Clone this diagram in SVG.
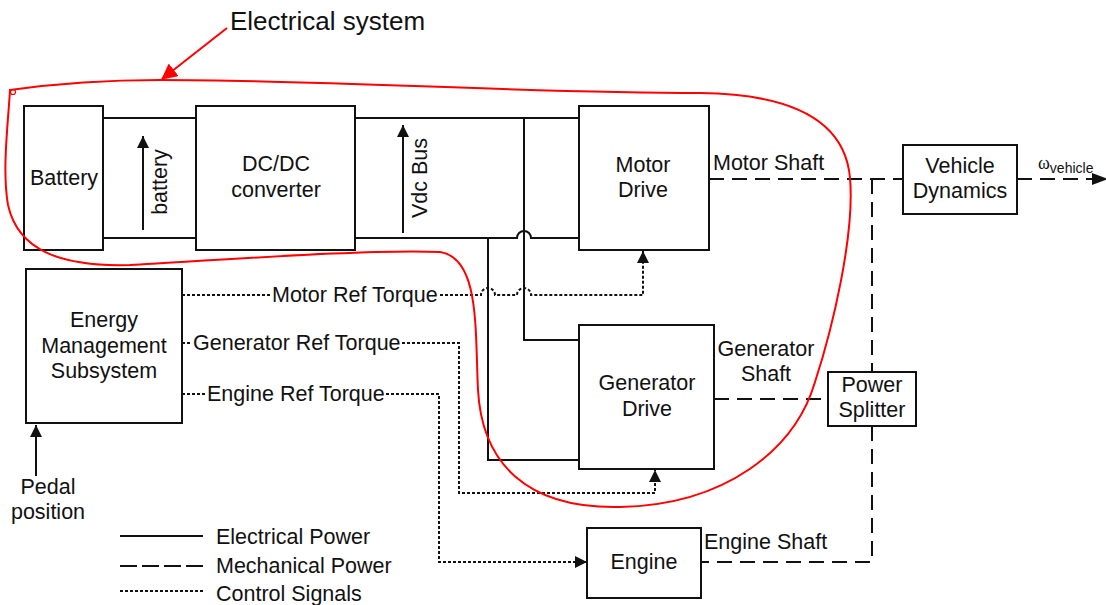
<svg xmlns="http://www.w3.org/2000/svg" width="1106" height="605" viewBox="0 0 1106 605">
<defs>
<style>
text{font-family:"Liberation Sans",Arial,sans-serif;font-size:21.5px;fill:#111}
.box{fill:#fff;stroke:#111;stroke-width:2}
.el{fill:none;stroke:#111;stroke-width:2}
.mech{fill:none;stroke:#111;stroke-width:2;stroke-dasharray:15 8}
.ctl{fill:none;stroke:#111;stroke-width:2;stroke-dasharray:3 2}
.mid{text-anchor:middle}
</style>
<marker id="ah" viewBox="0 0 12 12" refX="12" refY="6" markerWidth="12" markerHeight="12" markerUnits="userSpaceOnUse" orient="auto">
<path d="M0,0 L12,6 L0,12 Z" fill="#111"/>
</marker>
<marker id="ahr" viewBox="0 0 14 14" refX="13" refY="7" markerWidth="16" markerHeight="16" markerUnits="userSpaceOnUse" orient="auto">
<path d="M0,0 L14,7 L0,14 Z" fill="#f00"/>
</marker>
</defs>
<rect width="1106" height="605" fill="#fff"/>

<g id="connectors">
<path class="el" d="M103,118 H196 M103,238 H196"/>
<path class="el" d="M355,118 H579 M355,238 H517 A7,7 0 0 1 531,238 H579"/>
<path class="el" d="M524,118 V340 H579"/>
<path class="el" d="M488,238 V460 H579"/>
<path class="el" d="M143,230 V136" marker-end="url(#ah)"/>
<path class="el" d="M403,233 V125" marker-end="url(#ah)"/>
<path class="el" d="M36,476 V425" marker-end="url(#ah)"/>
<path class="mech" d="M709,179 H903"/>
<path class="mech" d="M1017,179 H1094"/>
<path d="M1092,173 L1108,179 L1092,185 Z" fill="#111"/>
<path class="mech" d="M872,179 V372"/>
<path class="mech" d="M872,426 V562 H701"/>
<path class="mech" d="M714,399 H828"/>
<path class="ctl" d="M182,295 H270 M440,295 H481 A7,7 0 0 1 495,295 H517 A7,7 0 0 1 531,295 H643 V251" marker-end="url(#ah)"/>
<path class="ctl" d="M182,343 H191 M402,343 H459 V493 H655 V470" marker-end="url(#ah)"/>
<path class="ctl" d="M182,394 H205 M386,394 H439 V562 H587" marker-end="url(#ah)"/>
</g>

<g id="battery"><rect class="box" x="24" y="106" width="79" height="144"/><text class="mid" x="64" y="185">Battery</text></g>
<g id="battery-label"><text class="mid" transform="translate(167,182) rotate(-90)">battery</text></g>
<g id="dcdc"><rect class="box" x="196" y="106" width="159" height="144"/><text class="mid" x="276" y="171">DC/DC</text><text class="mid" x="276" y="197">converter</text></g>
<g id="vdc-label"><text class="mid" transform="translate(427,178) rotate(-90)">Vdc Bus</text></g>
<g id="motor-drive"><rect class="box" x="579" y="106" width="130" height="144"/><text class="mid" x="643" y="172">Motor</text><text class="mid" x="643" y="197">Drive</text></g>
<g id="generator-drive"><rect class="box" x="579" y="325" width="135" height="144"/><text class="mid" x="647" y="390">Generator</text><text class="mid" x="647" y="416">Drive</text></g>
<g id="vehicle-dynamics"><rect class="box" x="903" y="145" width="114" height="69"/><text class="mid" x="960" y="173">Vehicle</text><text class="mid" x="960" y="198">Dynamics</text></g>
<g id="power-splitter"><rect class="box" x="828" y="372" width="88" height="54"/><text class="mid" x="872" y="392">Power</text><text class="mid" x="872" y="417">Splitter</text></g>
<g id="engine"><rect class="box" x="587" y="528" width="114" height="70"/><text class="mid" x="644" y="569">Engine</text></g>
<g id="energy-management"><rect class="box" x="26" y="269" width="156" height="154"/><text class="mid" x="104" y="327">Energy</text><text class="mid" x="104" y="353">Management</text><text class="mid" x="104" y="378">Subsystem</text></g>

<g id="labels">
<text x="713" y="170">Motor Shaft</text>
<text x="1038" y="169" style="font-family:'Liberation Serif',serif;font-size:18px">ω<tspan style="font-family:'Liberation Sans',Arial,sans-serif;font-size:14px" dy="4">vehicle</tspan></text>
<text class="mid" x="766" y="356">Generator</text>
<text class="mid" x="766" y="381">Shaft</text>
<text x="704" y="549">Engine Shaft</text>
<text x="272" y="302">Motor Ref Torque</text>
<text x="193" y="350">Generator Ref Torque</text>
<text x="207" y="401">Engine Ref Torque</text>
<text class="mid" x="48" y="494">Pedal</text>
<text class="mid" x="48" y="519">position</text>
</g>

<g id="legend">
<path class="el" d="M120,536 H203"/>
<path class="mech" d="M120,566 H203" style="stroke-dasharray:17 5"/>
<path class="ctl" d="M120,591 H203"/>
<text x="216" y="544">Electrical Power</text>
<text x="216" y="573">Mechanical Power</text>
<text x="216" y="601">Control Signals</text>
</g>

<g id="electrical-system">
<path fill="none" stroke="#f00" stroke-width="2" d="M10,90 C60,83 110,80 160,80 C330,80 520,93 700,93 C790,94 845,120 850,178 C855,235 832,330 815,382 C795,450 725,505 620,507 C525,509 482,462 478,390 C475,330 480,258 440,252 C380,249 250,258 130,265 C60,267 18,250 8,205 C2,170 8,125 10,90 Z"/>
<circle cx="13" cy="92" r="2.5" fill="none" stroke="#f00" stroke-width="1.2"/>
<path fill="none" stroke="#f00" stroke-width="2" d="M227,28 L162,79" marker-end="url(#ahr)"/>
<text x="230" y="30" style="font-size:26px">Electrical system</text>
</g>
</svg>
